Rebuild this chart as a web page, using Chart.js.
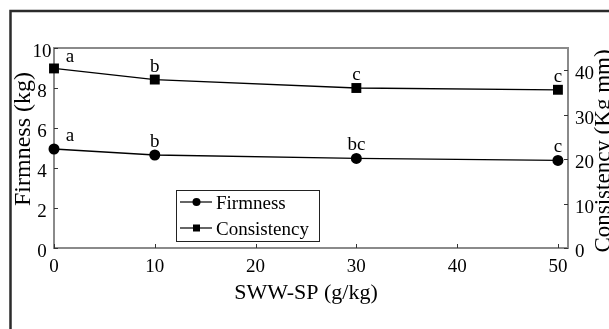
<!DOCTYPE html>
<html>
<head>
<meta charset="utf-8">
<script src="https://cdn.jsdelivr.net/npm/chart.js@4.4.1/dist/chart.umd.min.js"></script>
<style>
html,body{margin:0;padding:0;background:#fff;}
#wrap{width:609px;height:329px;position:relative;}
</style>
</head>
<body>
<div id="wrap"><canvas id="c" width="609" height="329"></canvas></div>
<script>
// ---- data ----
const doses = [0, 10, 30, 50];
const firmness = [4.95, 4.65, 4.48, 4.38];
const consistency = [40.4, 37.9, 36.0, 35.6];
const firmnessLetters = ['a', 'b', 'bc', 'c'];
const consistencyLetters = ['a', 'b', 'c', 'c'];
const xTicks = [0, 10, 20, 30, 40, 50];
const yTicks = [0, 2, 4, 6, 8, 10];
const y2Ticks = [0, 10, 20, 30, 40];
const seriesNames = ['Firmness', 'Consistency'];
const xTitle = 'SWW-SP (g/kg)';
const yTitle = 'Firmness (kg)';
const y2Title = 'Consistency (Kg mm)';

const SERIF = '"Liberation Serif", "Times New Roman", serif';

const decor = {
  id: 'decor',
  beforeDraw(chart) {
    const ctx = chart.ctx;
    ctx.save();
    ctx.fillStyle = '#fff';
    ctx.fillRect(0, 0, chart.width, chart.height);
    ctx.strokeStyle = '#2b2b2b';
    ctx.lineWidth = 2.5;
    ctx.strokeRect(10.5, 11, 800, 500);
    ctx.restore();
  },
  beforeDatasetsDraw(chart) {
    const ctx = chart.ctx;
    const a = chart.chartArea;
    const sx = chart.scales.x, sy = chart.scales.y, sy2 = chart.scales.y2;
    ctx.save();
    // plot box
    ctx.strokeStyle = '#8a8a8a';
    ctx.lineWidth = 2;
    ctx.strokeRect(a.left, a.top, a.right - a.left, a.bottom - a.top);
    // inward ticks
    ctx.strokeStyle = '#333';
    ctx.lineWidth = 1;
    ctx.beginPath();
    xTicks.forEach(v => { const p = Math.round(sx.getPixelForValue(v)) + 0.5; ctx.moveTo(p, a.bottom); ctx.lineTo(p, a.bottom - 4); });
    yTicks.forEach(v => { const p = Math.round(sy.getPixelForValue(v)) + 0.5; ctx.moveTo(a.left, p); ctx.lineTo(a.left + 4, p); });
    y2Ticks.forEach(v => { const p = Math.round(sy2.getPixelForValue(v)) + 0.5; ctx.moveTo(a.right, p); ctx.lineTo(a.right - 4, p); });
    ctx.stroke();
    // tick labels
    ctx.fillStyle = '#000';
    ctx.font = '19px ' + SERIF;
    ctx.textBaseline = 'alphabetic';
    ctx.textAlign = 'center';
    xTicks.forEach(v => ctx.fillText(String(v), sx.getPixelForValue(v), a.bottom + 24));
    yTicks.forEach(v => ctx.fillText(String(v), a.left - 12, sy.getPixelForValue(v) + 9));
    ctx.textAlign = 'left';
    y2Ticks.forEach(v => ctx.fillText(String(v), a.right + 7, sy2.getPixelForValue(v) + 9));
    // axis titles
    ctx.textAlign = 'center';
    ctx.font = '22px ' + SERIF;
    ctx.fillText(xTitle, 306, 299);
    ctx.save();
    ctx.font = '24px ' + SERIF;
    ctx.translate(30, 139);
    ctx.rotate(-Math.PI / 2);
    ctx.fillText(yTitle, 0, 0);
    ctx.restore();
    ctx.save();
    ctx.font = '23px ' + SERIF;
    ctx.translate(610, 151);
    ctx.rotate(-Math.PI / 2);
    ctx.fillText(y2Title, 0, 0);
    ctx.restore();
    ctx.restore();
  },
  afterDatasetsDraw(chart) {
    const ctx = chart.ctx;
    const sx = chart.scales.x, sy = chart.scales.y, sy2 = chart.scales.y2;
    ctx.save();
    ctx.fillStyle = '#000';
    ctx.font = '19px ' + SERIF;
    ctx.textAlign = 'center';
    ctx.textBaseline = 'alphabetic';
    doses.forEach((d, i) => {
      const dx = i === 0 ? 16 : 0;
      ctx.fillText(consistencyLetters[i], sx.getPixelForValue(d) + dx, sy2.getPixelForValue(consistency[i]) - (i === 0 ? 6 : 8));
      ctx.fillText(firmnessLetters[i], sx.getPixelForValue(d) + dx, sy.getPixelForValue(firmness[i]) - 8);
    });
    // legend
    const lx = 176, ly = 190, lw = 143, lh = 51;
    ctx.fillStyle = '#fff';
    ctx.fillRect(lx, ly, lw, lh);
    ctx.strokeStyle = '#222';
    ctx.lineWidth = 1;
    ctx.strokeRect(lx + 0.5, ly + 0.5, lw, lh);
    const rows = [202, 228];
    rows.forEach((ry, i) => {
      ctx.strokeStyle = '#000';
      ctx.lineWidth = 1.2;
      ctx.beginPath();
      ctx.moveTo(180, ry); ctx.lineTo(212, ry);
      ctx.stroke();
      ctx.fillStyle = '#000';
      if (i === 0) { ctx.beginPath(); ctx.arc(196.5, ry, 4, 0, Math.PI * 2); ctx.fill(); }
      else { ctx.fillRect(193, ry - 3.5, 7, 7); }
      ctx.font = '19px ' + SERIF;
      ctx.textAlign = 'left';
      ctx.fillText(seriesNames[i], 216, ry + 7);
    });
    ctx.restore();
  }
};

new Chart(document.getElementById('c'), {
  type: 'line',
  data: {
    datasets: [
      {
        label: seriesNames[0],
        data: doses.map((d, i) => ({ x: d, y: firmness[i] })),
        yAxisID: 'y',
        borderColor: '#000', backgroundColor: '#000', borderWidth: 1.3,
        pointStyle: 'circle', pointRadius: 5.5, pointBorderWidth: 0,
        tension: 0, clip: false
      },
      {
        label: seriesNames[1],
        data: doses.map((d, i) => ({ x: d, y: consistency[i] })),
        yAxisID: 'y2',
        borderColor: '#000', backgroundColor: '#000', borderWidth: 1.3,
        pointStyle: 'rect', pointRadius: 7, pointBorderWidth: 0,
        tension: 0, clip: false
      }
    ]
  },
  options: {
    responsive: false,
    animation: false,
    devicePixelRatio: 1,
    layout: { padding: { top: 48, left: 0, right: 0, bottom: 0 } },
    plugins: { legend: { display: false }, tooltip: { enabled: false } },
    scales: {
      x: {
        type: 'linear', position: 'bottom', min: 0, max: 51,
        ticks: { display: false, stepSize: 10 }, grid: { display: false }, border: { display: false },
        afterFit(s) { s.height = 81; }
      },
      y: {
        type: 'linear', position: 'left', min: 0, max: 10,
        ticks: { display: false, stepSize: 2 }, grid: { display: false }, border: { display: false },
        afterFit(s) { s.width = 54; }
      },
      y2: {
        type: 'linear', position: 'right', min: 0, max: 45,
        ticks: { display: false, stepSize: 10 }, grid: { display: false }, border: { display: false },
        afterFit(s) { s.width = 41; }
      }
    }
  },
  plugins: [decor]
});
</script>
</body>
</html>
